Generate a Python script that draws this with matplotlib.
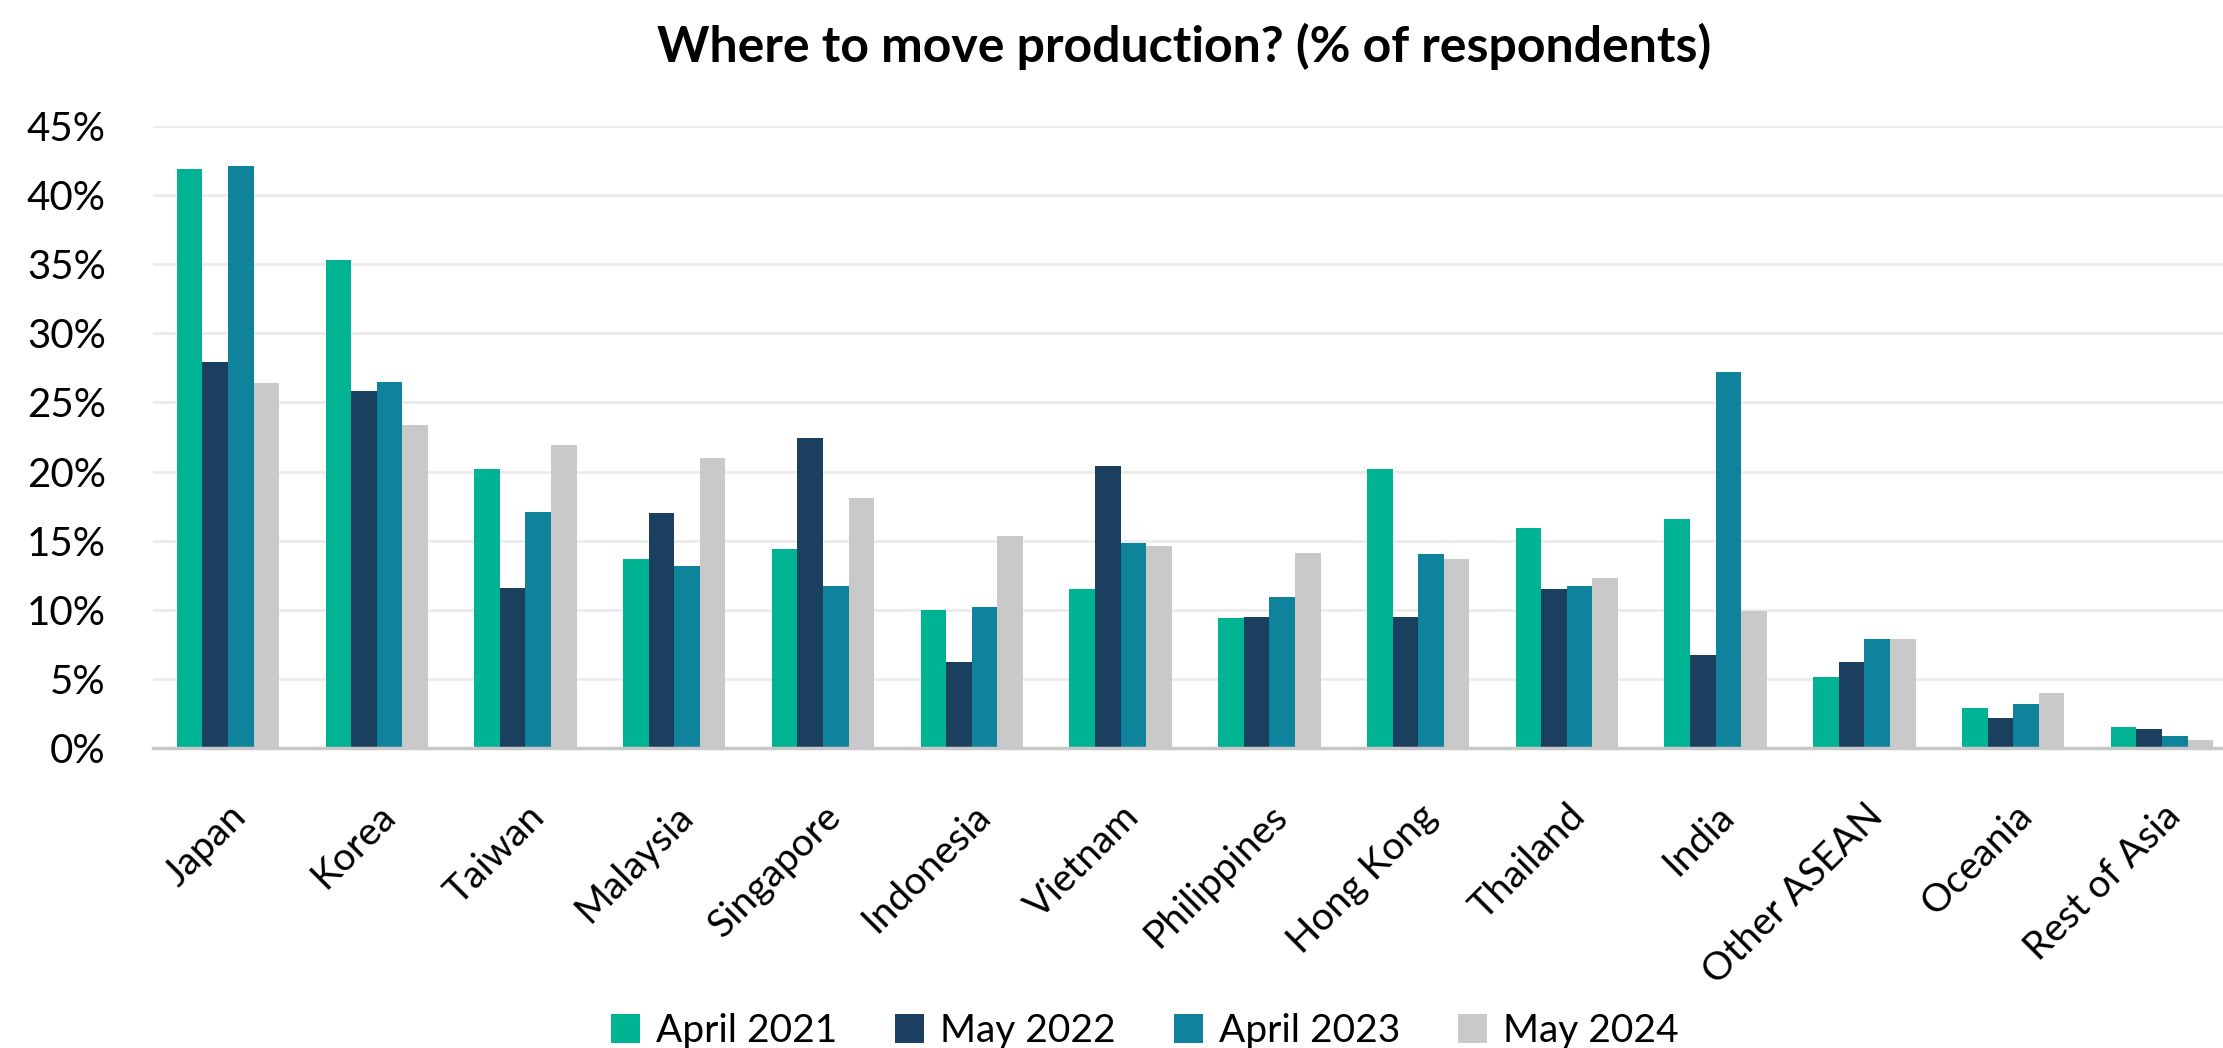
"""
Where to move production? grouped bar chart
"""

import numpy as np
import matplotlib.pyplot as plt
from matplotlib.ticker import FuncFormatter

plt.rcParams['font.family'] = ['Lato', 'DejaVu Sans']

countries = ['Japan', 'Korea', 'Taiwan', 'Malaysia', 'Singapore', 'Indonesia',
             'Vietnam', 'Philippines', 'Hong Kong', 'Thailand', 'India',
             'Other ASEAN', 'Oceania', 'Rest of Asia']

series_names = ['April 2021', 'May 2022', 'April 2023', 'May 2024']

apr_2021 = [41.9, 35.3, 20.2, 13.7, 14.4, 10.0, 11.5, 9.4, 20.2, 15.9, 16.6, 5.1, 2.9, 1.5]
may_2022 = [27.9, 25.8, 11.6, 17.0, 22.4, 6.2, 20.4, 9.5, 9.5, 11.5, 6.7, 6.2, 2.2, 1.4]
apr_2023 = [42.1, 26.5, 17.1, 13.2, 11.7, 10.2, 14.8, 10.9, 14.0, 11.7, 27.2, 7.9, 3.2, 0.9]
may_2024 = [26.4, 23.4, 21.9, 21.0, 18.1, 15.3, 14.6, 14.1, 13.7, 12.3, 9.9, 7.9, 4.0, 0.6]

colors = ['#00B393', '#1B3F5F', '#10839C', '#C9C9C9']


def main():
    fig = plt.figure(figsize=(22.23, 10.48), dpi=100)
    ax = fig.add_axes([0.0688, 0.2863, 0.9312, 0.5935])

    x = np.arange(len(countries))
    width = 0.172
    all_series = [apr_2021, may_2022, apr_2023, may_2024]
    for i, (vals, name, c) in enumerate(zip(all_series, series_names, colors)):
        ax.bar(x + (i - 1.5) * width, vals, width, color=c, label=name, zorder=3)

    ax.set_ylim(0, 45)
    ax.set_yticks(np.arange(0, 46, 5))
    ax.yaxis.set_major_formatter(FuncFormatter(lambda v, p: f'{v:.0f}%'))
    ax.set_xlim(-0.504, 13.41)
    ax.set_xticks(x)
    ax.set_xticklabels(countries, rotation=45, ha='right', va='top',
                       rotation_mode='anchor', fontsize=28, color='black')

    ax.grid(axis='y', color='#EBEBEB', linewidth=2, zorder=0)
    for s in ['top', 'right', 'left']:
        ax.spines[s].set_visible(False)
    ax.spines['bottom'].set_color('#C8C8C8')
    ax.spines['bottom'].set_linewidth(2.5)
    ax.spines['bottom'].set_zorder(4)

    ax.tick_params(axis='y', length=0, pad=34, labelsize=29, labelcolor='black')
    ax.tick_params(axis='x', length=0, pad=36)

    fig.text(0.5326, 0.956, 'Where to move production? (% of respondents)',
             ha='center', va='center', fontsize=36, fontweight='bold')

    fig.legend(loc='center', bbox_to_anchor=(0.515, 0.016), ncol=4, frameon=False,
               handlelength=0.75, handleheight=0.75,
               handletextpad=0.4, columnspacing=1.5,
               prop={'size': 28})

    fig.savefig('out.png', dpi=100)
    plt.close()


if __name__ == "__main__":
    main()
